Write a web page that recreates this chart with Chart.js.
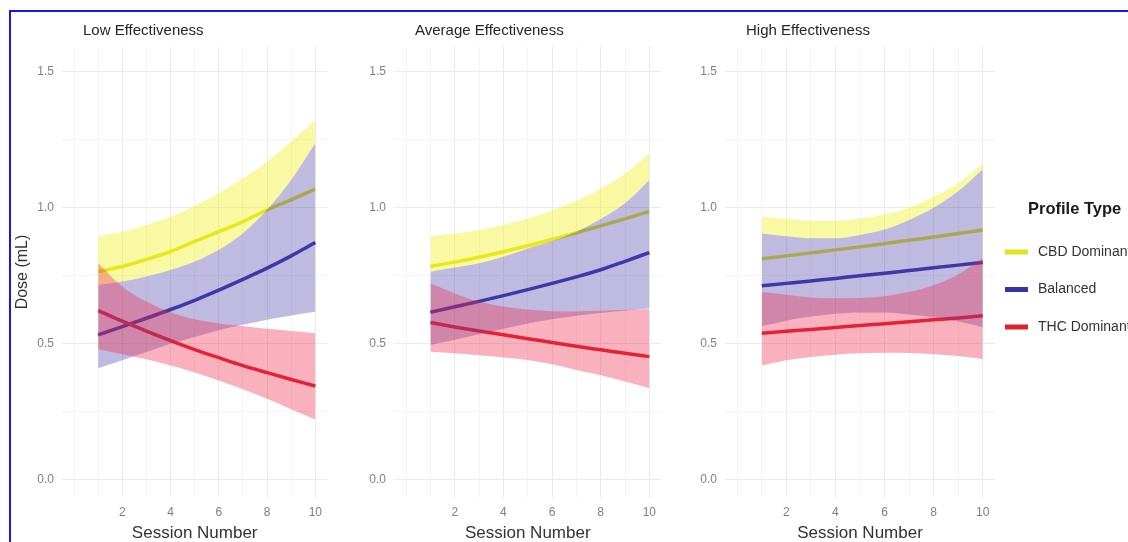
<!DOCTYPE html>
<html>
<head>
<meta charset="utf-8">
<script src="https://cdn.jsdelivr.net/npm/chart.js@4.4.1/dist/chart.umd.min.js"></script>
<style>
    html, body { margin: 0; padding: 0; background: #fff; width: 1128px; height: 542px; overflow: hidden; }
    #frame { position: absolute; left: 9px; top: 10px; width: 1200px; height: 600px; border: 2px solid #1616f2; box-sizing: border-box; }
    canvas { position: absolute; top: 0; }
</style>
</head>
<body>
<div id="frame"></div>
<canvas id="low" width="330" height="542" style="left:0px"></canvas>
<canvas id="avg" width="330" height="542" style="left:334px"></canvas>
<canvas id="high" width="463" height="542" style="left:665px"></canvas>
<script>
const sessions = [1, 2, 3, 4, 5, 6, 7, 8, 9, 10];
const seriesNames = ['CBD Dominant', 'Balanced', 'THC Dominant'];
const panelTitles = ['Low Effectiveness', 'Average Effectiveness', 'High Effectiveness'];
const xTickLabels = [2, 4, 6, 8, 10];
const xGridValues = [0, 1, 2, 3, 4, 5, 6, 7, 8, 9, 10];
const yTickLabels = [0, 0.5, 1, 1.5];
const yGridValues = [0, 0.25, 0.5, 0.75, 1, 1.25, 1.5];

// Low effectiveness
const lowCbdFit   = [0.765, 0.784, 0.810, 0.839, 0.876, 0.912, 0.949, 0.992, 1.029, 1.068];
const lowCbdUpper = [0.896, 0.912, 0.937, 0.967, 1.007, 1.053, 1.108, 1.169, 1.243, 1.322];
const lowCbdLower = [0.716, 0.729, 0.747, 0.771, 0.802, 0.845, 0.906, 0.992, 1.102, 1.237];
const lowBalFit   = [0.533, 0.563, 0.594, 0.626, 0.660, 0.697, 0.737, 0.778, 0.823, 0.872];
const lowBalUpper = [0.716, 0.729, 0.747, 0.771, 0.802, 0.845, 0.906, 0.992, 1.102, 1.237];
const lowBalLower = [0.410, 0.440, 0.470, 0.500, 0.525, 0.550, 0.570, 0.588, 0.604, 0.618];
const lowThcFit   = [0.622, 0.583, 0.547, 0.512, 0.479, 0.449, 0.420, 0.394, 0.369, 0.345];
const lowThcUpper = [0.796, 0.710, 0.655, 0.615, 0.590, 0.575, 0.565, 0.555, 0.547, 0.539];
const lowThcLower = [0.480, 0.462, 0.443, 0.420, 0.395, 0.365, 0.333, 0.298, 0.260, 0.222];

// Average effectiveness
const avgCbdFit   = [0.784, 0.800, 0.818, 0.838, 0.860, 0.884, 0.908, 0.933, 0.959, 0.986];
const avgCbdUpper = [0.896, 0.905, 0.918, 0.937, 0.960, 0.990, 1.025, 1.070, 1.125, 1.200];
const avgCbdLower = [0.765, 0.780, 0.796, 0.820, 0.850, 0.878, 0.912, 0.958, 1.016, 1.102];
const avgBalFit   = [0.616, 0.636, 0.656, 0.677, 0.699, 0.722, 0.746, 0.772, 0.803, 0.835];
const avgBalUpper = [0.765, 0.780, 0.796, 0.820, 0.850, 0.878, 0.912, 0.958, 1.016, 1.102];
const avgBalLower = [0.496, 0.515, 0.535, 0.555, 0.575, 0.590, 0.603, 0.613, 0.622, 0.630];
const avgThcFit   = [0.578, 0.562, 0.547, 0.533, 0.519, 0.505, 0.491, 0.478, 0.465, 0.453];
const avgThcUpper = [0.722, 0.685, 0.655, 0.637, 0.626, 0.620, 0.619, 0.621, 0.625, 0.628];
const avgThcLower = [0.471, 0.465, 0.458, 0.450, 0.441, 0.425, 0.404, 0.385, 0.362, 0.337];

// High effectiveness
const highCbdFit   = [0.812, 0.823, 0.834, 0.845, 0.856, 0.868, 0.880, 0.892, 0.905, 0.918];
const highCbdUpper = [0.967, 0.958, 0.952, 0.952, 0.960, 0.975, 1.000, 1.040, 1.090, 1.161];
const highCbdLower = [0.905, 0.895, 0.888, 0.888, 0.900, 0.920, 0.955, 1.000, 1.060, 1.140];
const highBalFit   = [0.713, 0.722, 0.731, 0.740, 0.750, 0.759, 0.769, 0.779, 0.789, 0.799];
const highBalUpper = [0.905, 0.895, 0.888, 0.888, 0.900, 0.920, 0.955, 1.000, 1.060, 1.140];
const highBalLower = [0.565, 0.585, 0.600, 0.610, 0.615, 0.615, 0.608, 0.598, 0.582, 0.561];
const highThcFit   = [0.539, 0.546, 0.553, 0.560, 0.567, 0.574, 0.581, 0.588, 0.595, 0.603];
const highThcUpper = [0.690, 0.680, 0.670, 0.667, 0.668, 0.675, 0.690, 0.715, 0.755, 0.815];
const highThcLower = [0.420, 0.440, 0.452, 0.460, 0.465, 0.467, 0.466, 0.462, 0.455, 0.444];

const lineColors = ['#e2e21e', '#3434a6', '#e0202a'];
const bandColors = ['rgba(240, 240, 20, 0.39)', 'rgba(75, 65, 170, 0.36)', 'rgba(238, 40, 75, 0.36)'];
const fontFamily = "'Liberation Sans', Arial, sans-serif";

const pts = (arr) => sessions.map((s, i) => ({ x: s, y: arr[i] }));

// strip title, left aligned above each panel
const panelTitle = {
    id: 'panelTitle',
    afterDraw(chart, args, opts) {
        const ctx = chart.ctx;
        ctx.save();
        ctx.font = '15px ' + fontFamily;
        ctx.fillStyle = '#262626';
        ctx.textBaseline = 'middle';
        ctx.textAlign = 'left';
        ctx.fillText(opts.text, chart.chartArea.left + 21, 31);
        ctx.restore();
    }
};

// legend drawn to the right of the last panel
const sideLegend = {
    id: 'sideLegend',
    afterDraw(chart, args, opts) {
        if (!opts.show) return;
        const ctx = chart.ctx;
        const x0 = chart.chartArea.right;
        ctx.save();
        ctx.textBaseline = 'middle';
        ctx.textAlign = 'left';
        ctx.font = 'bold 16.5px ' + fontFamily;
        ctx.fillStyle = '#1a1a1a';
        ctx.fillText('Profile Type', x0 + 33, 209);
        ctx.font = '14px ' + fontFamily;
        seriesNames.forEach((name, i) => {
            const y = 252 + i * 37.5;
            ctx.fillStyle = lineColors[i];
            ctx.fillRect(x0 + 10, y - 2.5, 23, 5);
            ctx.fillStyle = '#333';
            ctx.fillText(name, x0 + 43, y);
        });
        ctx.restore();
    }
};

function makePanel(id, index, fits, uppers, lowers) {
    const datasets = [];
    seriesNames.forEach((name, i) => {
        datasets.push({
            label: name,
            data: pts(fits[i]),
            borderColor: lineColors[i],
            backgroundColor: lineColors[i],
            borderWidth: 3.5,
            pointRadius: 0,
            fill: false,
            cubicInterpolationMode: 'monotone',
            order: 10 - i
        });
    });
    // ribbons go on top of the lines, THC last
    seriesNames.forEach((name, i) => {
        datasets.push({
            label: name + ' upper',
            data: pts(uppers[i]),
            borderColor: 'transparent',
            borderWidth: 0,
            pointRadius: 0,
            backgroundColor: bandColors[i],
            fill: { target: '+1' },
            cubicInterpolationMode: 'monotone',
            order: 3 - i
        });
        datasets.push({
            label: name + ' lower',
            data: pts(lowers[i]),
            borderColor: 'transparent',
            borderWidth: 0,
            pointRadius: 0,
            fill: false,
            cubicInterpolationMode: 'monotone',
            order: 3 - i
        });
    });

    const isFirst = index === 0;
    const isLast = index === 2;

    return new Chart(document.getElementById(id).getContext('2d'), {
        type: 'line',
        data: { datasets: datasets },
        plugins: [panelTitle, sideLegend],
        options: {
            responsive: false,
            animation: false,
            layout: { padding: { top: 47, right: isLast ? 133 : 0, bottom: 0, left: 0 } },
            plugins: {
                legend: { display: false },
                tooltip: { enabled: false },
                panelTitle: { text: panelTitles[index] },
                sideLegend: { show: isLast }
            },
            scales: {
                x: {
                    type: 'linear',
                    min: -0.5,
                    max: 10.5,
                    afterBuildTicks: (scale) => { scale.ticks = xGridValues.map(v => ({ value: v })); },
                    afterFit: (scale) => { scale.height = 45; },
                    ticks: {
                        autoSkip: false,
                        maxRotation: 0,
                        padding: 8,
                        color: '#7f7f7f',
                        font: { family: fontFamily, size: 12 },
                        callback: (v) => xTickLabels.includes(v) ? String(v) : ''
                    },
                    grid: {
                        drawTicks: false,
                        color: (c) => (c.tick && xTickLabels.includes(c.tick.value)) ? '#ebebeb' : '#f4f4f4',
                        lineWidth: 1
                    },
                    border: { display: false },
                    title: {
                        display: true,
                        text: 'Session Number',
                        color: '#333',
                        padding: { top: 0, bottom: 0 },
                        font: { family: fontFamily, size: 17, lineHeight: 1 }
                    }
                },
                y: {
                    type: 'linear',
                    min: -0.0625,
                    max: 1.59,
                    afterBuildTicks: (scale) => { scale.ticks = yGridValues.map(v => ({ value: v })); },
                    afterFit: (scale) => { scale.width = isFirst ? 62 : 60; },
                    ticks: {
                        autoSkip: false,
                        padding: 8,
                        color: '#7f7f7f',
                        font: { family: fontFamily, size: 12 },
                        callback: (v) => yTickLabels.includes(v) ? v.toFixed(1) : ''
                    },
                    grid: {
                        drawTicks: false,
                        color: (c) => (c.tick && yTickLabels.includes(c.tick.value)) ? '#ebebeb' : '#f4f4f4',
                        lineWidth: 1
                    },
                    border: { display: false },
                    title: {
                        display: isFirst,
                        text: 'Dose (mL)',
                        color: '#333',
                        padding: { top: 15, bottom: 0 },
                        font: { family: fontFamily, size: 16, lineHeight: 1 }
                    }
                }
            }
        }
    });
}

makePanel('low', 0,
    [lowCbdFit, lowBalFit, lowThcFit],
    [lowCbdUpper, lowBalUpper, lowThcUpper],
    [lowCbdLower, lowBalLower, lowThcLower]);
makePanel('avg', 1,
    [avgCbdFit, avgBalFit, avgThcFit],
    [avgCbdUpper, avgBalUpper, avgThcUpper],
    [avgCbdLower, avgBalLower, avgThcLower]);
makePanel('high', 2,
    [highCbdFit, highBalFit, highThcFit],
    [highCbdUpper, highBalUpper, highThcUpper],
    [highCbdLower, highBalLower, highThcLower]);
</script>
</body>
</html>
